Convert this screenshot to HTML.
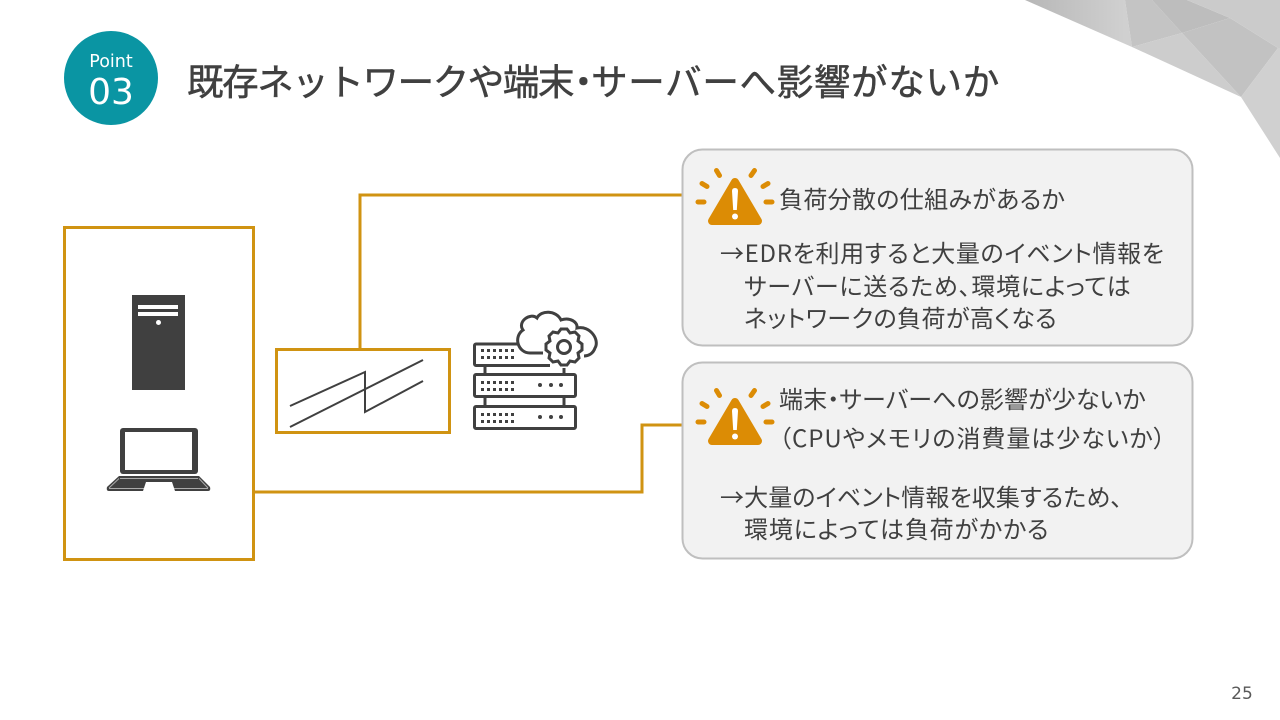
<!DOCTYPE html>
<html lang="ja"><head><meta charset="utf-8"><style>
html,body{margin:0;padding:0;background:#fff}
#p{position:relative;width:1280px;height:720px;overflow:hidden;background:#fff;font-family:"Liberation Sans","Noto Sans CJK JP",sans-serif;color:#404040}
svg{position:absolute;left:0;top:0}
.t{position:absolute;white-space:nowrap;font-size:24px;line-height:33px;font-family:"Noto Sans CJK JP",sans-serif;color:#404040;font-feature-settings:"palt"}
</style></head><body><div id="p">
<svg width="1280" height="720" viewBox="0 0 1280 720">
<defs><linearGradient id="g1" gradientUnits="userSpaceOnUse" x1="1030" y1="0" x2="1125" y2="0"><stop offset="0" stop-color="#b8b8b8"/><stop offset="1" stop-color="#d0d0d0"/></linearGradient></defs>
<polygon points="1025,0 1125,0 1132,47" fill="url(#g1)"/>
<polygon points="1125,0 1152,0 1182,33 1132,47" fill="#c4c4c4"/>
<polygon points="1152,0 1187,0 1230,18 1182,33" fill="#bdbdbd"/>
<polygon points="1182,33 1230,18 1278,48 1241,97" fill="#c2c2c2"/>
<polygon points="1132,47 1182,33 1241,97" fill="#cdcdcd"/>
<polygon points="1187,0 1280,0 1280,48 1278,48 1230,18" fill="#cbcbcb"/>
<polygon points="1278,48 1280,48 1280,158 1241,97" fill="#d0d0d0"/>
<circle cx="111" cy="78" r="47" fill="#0a95a3"/>
<g fill="none" stroke="#d09312" stroke-width="3">
<rect x="64.500" y="227.500" width="189" height="332"/>
<rect x="276.500" y="349.500" width="173" height="83"/>
<polyline points="360,348 360,195 682,195"/>
<polyline points="254,492 642,492 642,425 684,425"/>
</g>
<rect x="682.500" y="149.500" width="510" height="196" rx="20" fill="#f2f2f2" stroke="#bfbfbf" stroke-width="2"/>
<rect x="682.500" y="362.500" width="510" height="196" rx="20" fill="#f2f2f2" stroke="#bfbfbf" stroke-width="2"/>
<!-- tower -->
<rect x="132" y="295" width="53" height="95" fill="#404040"/>
<rect x="138" y="305" width="40" height="4" fill="#fff"/><rect x="138" y="312" width="40" height="4" fill="#fff"/>
<circle cx="158.500" cy="322.500" r="2.500" fill="#fff"/>
<!-- laptop -->
<rect x="120" y="428" width="78" height="46" rx="3" fill="#404040"/>
<rect x="125" y="432" width="67" height="38" fill="#fff"/>
<path d="M119 476H199L210 487Q211 491 208 491H109Q106 491 107 487Z" fill="#404040"/>
<path d="M120 478.500H198M109 488L119 478.500M199 478.500L208 488M109 488.500H208" stroke="#aaa" stroke-width="1" fill="none"/>
<polygon points="146,482 172,482 175,491 143,491" fill="#fff"/>
<!-- lightning -->
<path d="M290 406L365 372V412L423 381M290 427L423 360" fill="none" stroke="#404040" stroke-width="2"/>
<!-- servers -->
<g fill="none" stroke="#404040" stroke-width="3">
<path d="M518 344H476A1.500 1.500 0 0 0 474.500 345.500V364A1.500 1.500 0 0 0 476 365.500H550"/>
<rect x="474.500" y="374.500" width="101" height="22" rx="1.500"/>
<rect x="474.500" y="406.500" width="101" height="22" rx="1.500"/>
<path d="M485 366V374M485 397V406M564 397V406M564 368V374"/>
<path d="M543 353H530C518 353 513 337 523 330C517 322 530 312 537 318C541 310 556 310 561 320C570 317 578 322 577 328C590 325 600 340 595 348C593 354 588 356 584 356"/>
<path d="M558 333L561 329H567L570 333L575 332L579 336L578 341L582 344V350L578 353L579 358L575 362L570 361L567 365H561L558 361L553 362L549 358L550 353L546 350V344L550 341L549 336L553 332Z" fill="#fff"/>
<circle cx="564" cy="347" r="6.500" fill="#fff"/>
</g>
<g fill="#404040">
<path d="M481 349h3v3h-3zM487 349h3v3h-3zM493 349h3v3h-3zM499 349h3v3h-3zM505 349h3v3h-3zM511 349h3v3h-3zM481 356h3v3h-3zM487 356h3v3h-3zM493 356h3v3h-3zM499 356h3v3h-3zM505 356h3v3h-3zM511 356h3v3h-3z"/>
<path d="M481 381h3v3h-3zM487 381h3v3h-3zM493 381h3v3h-3zM499 381h3v3h-3zM505 381h3v3h-3zM511 381h3v3h-3zM481 388h3v3h-3zM487 388h3v3h-3zM493 388h3v3h-3zM499 388h3v3h-3zM505 388h3v3h-3zM511 388h3v3h-3z"/>
<path d="M481 413h3v3h-3zM487 413h3v3h-3zM493 413h3v3h-3zM499 413h3v3h-3zM505 413h3v3h-3zM511 413h3v3h-3zM481 420h3v3h-3zM487 420h3v3h-3zM493 420h3v3h-3zM499 420h3v3h-3zM505 420h3v3h-3zM511 420h3v3h-3z"/>
<circle cx="540" cy="385" r="2"/><circle cx="551" cy="385" r="2"/><circle cx="561" cy="385" r="2"/>
<circle cx="540" cy="417" r="2"/><circle cx="551" cy="417" r="2"/><circle cx="561" cy="417" r="2"/>
</g>
<!-- warning icons -->
<defs><g id="w">
<polygon points="735,182 712,221 758,221" fill="#dc8c05" stroke="#dc8c05" stroke-width="8" stroke-linejoin="round"/>
<path d="M732 191Q732 188 735 188Q738 188 738 191L736.800 210H733.200Z" fill="#fff"/><circle cx="735" cy="216.500" r="3" fill="#fff"/>
<path d="M698 202H704M766 202H772M702 183.500L707 186.500M763 186.500L768 183.500M716.500 170.500L719.500 175.500M751 175.500L754.500 170.500" stroke="#dc8c05" stroke-width="5" stroke-linecap="round" fill="none"/>
</g></defs>
<use href="#w"/>
<use href="#w" y="220"/>
<text x="111" y="67" text-anchor="middle" font-family="'DejaVu Sans',sans-serif" font-size="17.500" fill="#fff">Point</text>
<text x="111" y="104" text-anchor="middle" font-family="'DejaVu Sans',sans-serif" font-size="36" fill="#fff">03</text>
<text x="1242" y="699" text-anchor="middle" font-family="'DejaVu Sans',sans-serif" font-size="17" fill="#595959">25</text>
</svg>
<div class="t" style="left:187px;top:55px;font-size:36.500px;line-height:50px;font-feature-settings:normal;-webkit-text-stroke:.5px #404040"><span style="letter-spacing:-1.400px">既存ネットワークや端末</span><span style="letter-spacing:-10.500px;margin-left:-8px">・</span><span style="letter-spacing:.7px">サーバーへ影響がないか</span></div>
<div class="t" style="left:779px;top:181px;letter-spacing:.33px">負荷分散の仕組みがあるか</div>
<div class="t" style="left:720px;top:235px;letter-spacing:.68px">→EDRを利用すると大量のイベント情報を</div>
<div class="t" style="left:744px;top:268px;letter-spacing:.76px">サーバーに送るため、環境によっては</div>
<div class="t" style="left:744px;top:300px;letter-spacing:.43px">ネットワークの負荷が高くなる</div>
<div class="t" style="left:779px;top:381px;letter-spacing:.12px">端末・サーバーへの影響が少ないか</div>
<div class="t" style="left:779px;top:420px;letter-spacing:.95px">（CPUやメモリの消費量は少ないか）</div>
<div class="t" style="left:720px;top:479px;letter-spacing:.1px">→大量のイベント情報を収集するため、</div>
<div class="t" style="left:744px;top:511px;letter-spacing:.85px">環境によっては負荷がかかる</div>
</div></body></html>
